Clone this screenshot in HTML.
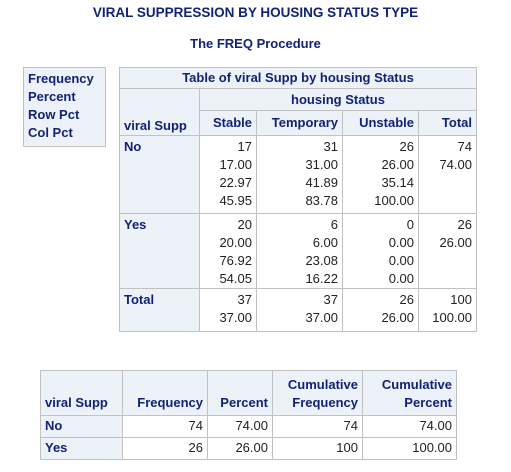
<!DOCTYPE html>
<html><head><style>
body{margin:0;width:511px;height:472px;background:#fff;font-family:"Liberation Sans",sans-serif;font-size:13px;position:relative;overflow:hidden}
.t{position:absolute;left:0;width:511px;text-align:center;font-weight:bold;color:#112277}
table{position:absolute;border-collapse:collapse;table-layout:fixed}
td,th{border:1px solid #c1c1c1;padding:0 4px;line-height:18px}
th{background:#edf2f9;color:#112277;font-weight:bold}
td{text-align:right;vertical-align:top;padding-top:2px;color:#222}
th.rh{text-align:left;vertical-align:top;padding-top:2px}
</style></head><body>
<div class="t" style="top:5px;font-size:13.5px">VIRAL SUPPRESSION BY HOUSING STATUS TYPE</div>
<div class="t" style="top:36px">The FREQ Procedure</div>

<table style="left:23px;top:67px;width:83px">
<tr><th style="text-align:left;height:76px;vertical-align:top;line-height:18px;padding-top:2px">Frequency<br>Percent<br>Row Pct<br>Col Pct</th></tr></table>

<table style="left:119px;top:67px;width:357px">
<colgroup><col style="width:80px"><col style="width:57px"><col style="width:86px"><col style="width:76px"><col style="width:58px"></colgroup>
<tr style="height:21px"><th colspan="5">Table of viral Supp by housing Status</th></tr>
<tr style="height:22px"><th rowspan="2" style="vertical-align:bottom;text-align:left">viral Supp</th><th colspan="4">housing Status</th></tr>
<tr style="height:25px"><th style="text-align:right">Stable</th><th style="text-align:right">Temporary</th><th style="text-align:right">Unstable</th><th style="text-align:right">Total</th></tr>
<tr style="height:78px"><th class="rh">No</th><td>17<br>17.00<br>22.97<br>45.95</td><td>31<br>31.00<br>41.89<br>83.78</td><td>26<br>26.00<br>35.14<br>100.00</td><td>74<br>74.00</td></tr>
<tr style="height:74px"><th class="rh">Yes</th><td>20<br>20.00<br>76.92<br>54.05</td><td>6<br>6.00<br>23.08<br>16.22</td><td>0<br>0.00<br>0.00<br>0.00</td><td>26<br>26.00</td></tr>
<tr style="height:43px"><th class="rh">Total</th><td>37<br>37.00</td><td>37<br>37.00</td><td>26<br>26.00</td><td>100<br>100.00</td></tr>
</table>

<table style="left:40px;top:370px;width:416px">
<colgroup><col style="width:82px"><col style="width:85px"><col style="width:65px"><col style="width:90px"><col style="width:94px"></colgroup>
<tr style="height:45px"><th style="text-align:left;vertical-align:bottom;padding-bottom:3px">viral Supp</th><th style="text-align:right;vertical-align:bottom;padding-bottom:3px">Frequency</th><th style="text-align:right;vertical-align:bottom;padding-bottom:3px">Percent</th><th style="text-align:right;vertical-align:bottom;padding-bottom:3px">Cumulative<br>Frequency</th><th style="text-align:right;vertical-align:bottom;padding-bottom:3px">Cumulative<br>Percent</th></tr>
<tr style="height:22px"><th class="rh" style="padding-top:1px">No</th><td style="padding-top:1px">74</td><td style="padding-top:1px">74.00</td><td style="padding-top:1px">74</td><td style="padding-top:1px">74.00</td></tr>
<tr style="height:22px"><th class="rh" style="padding-top:1px">Yes</th><td style="padding-top:1px">26</td><td style="padding-top:1px">26.00</td><td style="padding-top:1px">100</td><td style="padding-top:1px">100.00</td></tr>
</table>
</body></html>
